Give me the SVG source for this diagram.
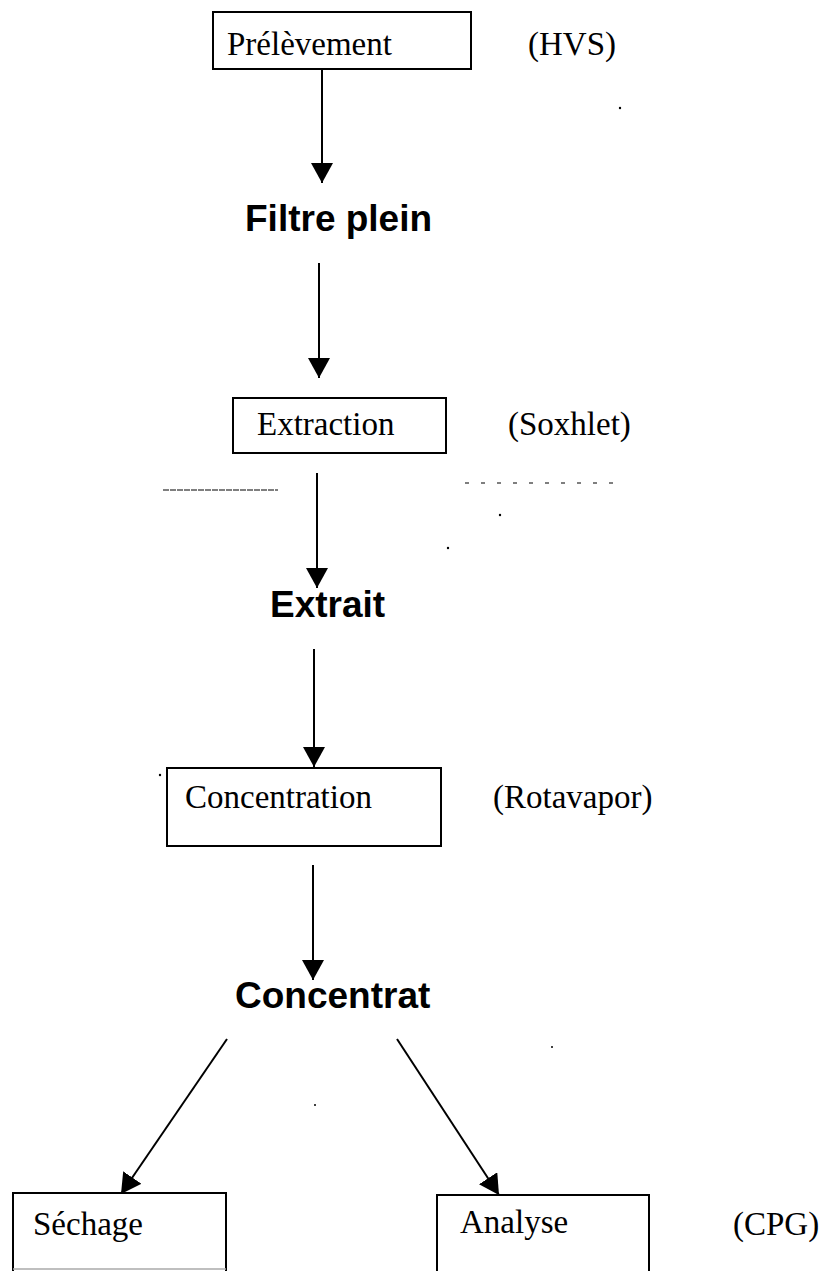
<svg xmlns="http://www.w3.org/2000/svg" width="822" height="1271" viewBox="0 0 822 1271">
<style>
.box{fill:#fff;stroke:#000;stroke-width:2}
.lbl{font-family:"Liberation Serif","Times New Roman",serif;font-size:33px;fill:#000}
.big{font-family:"Liberation Sans",Arial,sans-serif;font-size:37px;font-weight:bold;fill:#000}
.con{stroke:#000;stroke-width:2;fill:none}
.dash{stroke:#000;stroke-width:1.2;fill:none}
</style>
<defs>
<marker id="ah" markerUnits="userSpaceOnUse" markerWidth="22" markerHeight="22" refX="20" refY="11" orient="auto" viewBox="0 0 22 22">
<path d="M0,0 L20,11 L0,22 z" fill="#000"/>
</marker>
</defs>
<rect width="822" height="1271" fill="#fff"/>
<g id="connectors">
<line class="con" x1="322" y1="69" x2="322" y2="183" marker-end="url(#ah)"/>
<line class="con" x1="319" y1="263" x2="319" y2="378" marker-end="url(#ah)"/>
<line class="con" x1="317" y1="473" x2="317" y2="588" marker-end="url(#ah)"/>
<line class="con" x1="314" y1="649" x2="314" y2="767" marker-end="url(#ah)"/>
<line class="con" x1="313" y1="865" x2="313" y2="980" marker-end="url(#ah)"/>
<line class="con" x1="227" y1="1039" x2="121" y2="1194" marker-end="url(#ah)"/>
<line class="con" x1="397" y1="1039" x2="499" y2="1195" marker-end="url(#ah)"/>
</g>
<g id="prelevement">
<rect class="box" x="213" y="12" width="258" height="57"/>
<text class="lbl" x="227" y="55">Prélèvement</text>
</g>
<text id="hvs" class="lbl" x="528" y="55">(HVS)</text>
<g id="filtre-plein">
<text class="big" x="245" y="231">Filtre plein</text>
</g>
<g id="extraction">
<rect class="box" x="233" y="398" width="213" height="55"/>
<text class="lbl" x="257" y="435">Extraction</text>
</g>
<text id="soxhlet" class="lbl" x="508" y="435">(Soxhlet)</text>
<g id="separators">
<line class="dash" x1="163" y1="490" x2="278" y2="490" stroke-dasharray="6 1"/>
<line class="dash" x1="465" y1="483" x2="622" y2="483" stroke-dasharray="4 12"/>
</g>
<g id="extrait">
<text class="big" x="270" y="617">Extrait</text>
</g>
<g id="concentration">
<rect class="box" x="167" y="768" width="274" height="78"/>
<text class="lbl" x="185" y="808">Concentration</text>
</g>
<text id="rotavapor" class="lbl" x="493" y="808">(Rotavapor)</text>
<g id="concentrat">
<text class="big" x="235" y="1008">Concentrat</text>
</g>
<g id="sechage">
<rect class="box" x="13" y="1193" width="213" height="90"/>
<line x1="13" y1="1269" x2="226" y2="1269" stroke="#aaa" stroke-width="1.5"/>
<text class="lbl" x="33" y="1235">Séchage</text>
</g>
<g id="analyse">
<rect class="box" x="437" y="1195" width="212" height="90"/>
<text class="lbl" x="460" y="1233">Analyse</text>
</g>
<text id="cpg" class="lbl" x="733" y="1235">(CPG)</text>
<g id="specks" fill="#000">
<circle cx="620" cy="108" r="1.2"/>
<circle cx="500" cy="515" r="1.2"/>
<circle cx="448" cy="548" r="1.2"/>
<circle cx="160" cy="775" r="1.2"/>
<circle cx="552" cy="1047" r="1"/>
<circle cx="315" cy="1105" r="1"/>
</g>
</svg>
